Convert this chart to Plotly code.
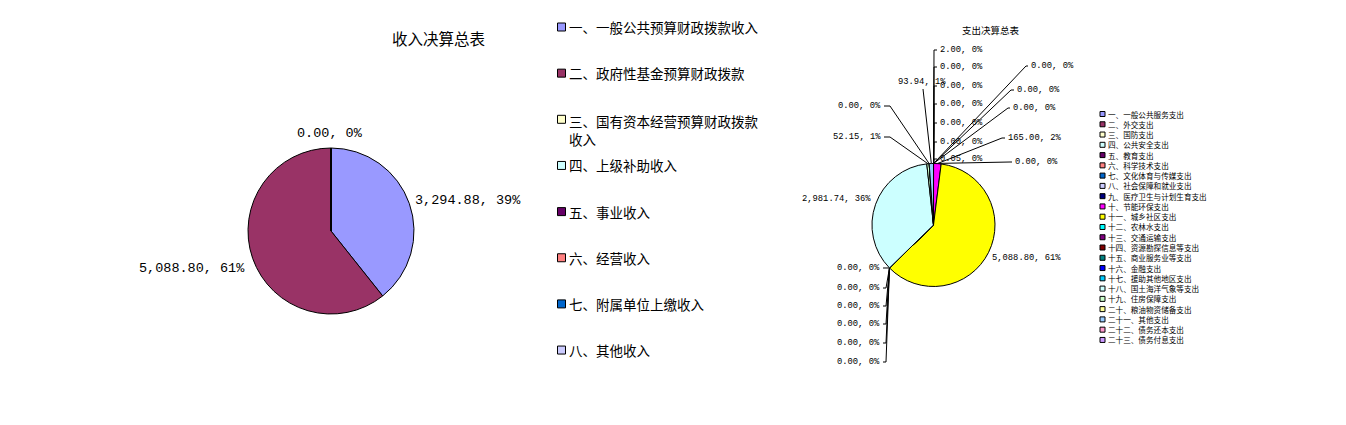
import math
import plotly.graph_objects as go

W, H = 1346, 425

# ---------------- data ----------------
income_title = "收入决算总表"
income_categories = [
    "一、一般公共预算财政拨款收入",
    "二、政府性基金预算财政拨款",
    "三、国有资本经营预算财政拨款<br>收入",
    "四、上级补助收入",
    "五、事业收入",
    "六、经营收入",
    "七、附属单位上缴收入",
    "八、其他收入",
]
income_values = [3294.88, 5088.80, 0.00, None, None, None, None, None]

expense_title = "支出决算总表"
expense_categories = [
    "一、一般公共服务支出", "二、外交支出", "三、国防支出", "四、公共安全支出",
    "五、教育支出", "六、科学技术支出", "七、文化体育与传媒支出", "八、社会保障和就业支出",
    "九、医疗卫生与计划生育支出", "十、节能环保支出", "十一、城乡社区支出", "十二、农林水支出",
    "十三、交通运输支出", "十四、资源勘探信息等支出", "十五、商业服务业等支出", "十六、金融支出",
    "十七、援助其他地区支出", "十八、国土海洋气象等支出", "十九、住房保障支出", "二十、粮油物资储备支出",
    "二十一、其他支出", "二十二、债务还本支出", "二十三、债务付息支出",
]
expense_values = [2.00, 0.00, 0.00, 0.00, 0.00, 0.00, 0.05, 0.00, 0.00, 165.00,
                  5088.80, 0.00, 0.00, 0.00, 0.00, 0.00, 0.00, 2981.74, 52.15, 0.00,
                  93.94, 0.00, 0.00]

palette = ["#9999FF", "#993366", "#FFFFCC", "#CCFFFF", "#660066", "#FF8080", "#0066CC",
           "#CCCCFF", "#000080", "#FF00FF", "#FFFF00", "#00FFFF", "#800080", "#800000",
           "#008080", "#0000FF", "#00CCFF", "#CCFFFF", "#CCFFCC", "#FFFF99", "#99CCFF",
           "#FF99CC", "#CC99FF"]

# ---------------- layout (pixel positions) ----------------
L_CX, L_CY, L_R = 331, 231, 83
R_CX, R_CY, R_R = 933.5, 225, 61.5

income_label_pos = [(413, 200, "left"), (247, 268, "right"), (330, 133, "center")]

# expense label: (x, y, xanchor, leader points before the slice edge)
def stack_top(y):
    return (938, y, "left", [(937, y), (934, y)])

def stack_bottom(y):
    return (882, y, "right", [(883, y), (886, y)])

expense_label_pos = [
    stack_top(50), stack_top(67), stack_top(86), stack_top(104), stack_top(123),
    stack_top(142), stack_top(159),
    (1029, 66, "left", [(1028, 66), (1026, 66)]),
    (1015, 90, "left", [(1014, 90), (1011, 90)]),
    (1006, 138, "left", [(1005, 138), (1002, 138)]),
    (990, 258, "left", None),
    stack_bottom(268), stack_bottom(288), stack_bottom(306), stack_bottom(324),
    stack_bottom(343), stack_bottom(362),
    (873, 199, "right", None),
    (883, 137, "right", [(884, 137), (890, 137)]),
    (883, 106, "right", [(884, 106), (890, 106)]),
    (922, 82, "center", [(923, 89)]),
    (1011, 108, "left", [(1010, 108), (1008, 108)]),
    (1013, 162, "left", [(1012, 162), (1010, 162)]),
]

NUM_FONT = "Liberation Mono, Noto Sans CJK SC, monospace"
CJK_FONT = "Noto Sans CJK SC, sans-serif"


def domain(cx, cy, r):
    return dict(x=[(cx - r) / W, (cx + r) / W], y=[(H - (cy + r)) / H, (H - (cy - r)) / H])


def fmt(v, total):
    return f"{v:,.2f}, {round(100 * v / total):.0f}%"


def edge_point(cx, cy, r, values, i):
    total = sum(values)
    cum = sum(values[:i]) + values[i] / 2
    th = 2 * math.pi * cum / total
    return cx + r * math.sin(th), cy - r * math.cos(th)


fig = go.Figure()

inc_plot = [v if v is not None else 0 for v in income_values]
fig.add_trace(go.Pie(
    values=inc_plot, labels=income_categories, sort=False, direction="clockwise", rotation=0,
    marker=dict(colors=palette[:len(income_categories)], line=dict(color="black", width=1)),
    textinfo="none", showlegend=False, domain=domain(L_CX, L_CY, L_R),
))
fig.add_trace(go.Pie(
    values=expense_values, labels=expense_categories, sort=False, direction="clockwise", rotation=0,
    marker=dict(colors=palette[:len(expense_categories)], line=dict(color="black", width=1)),
    textinfo="none", showlegend=False, domain=domain(R_CX, R_CY, R_R),
))

annotations = []
# titles
annotations.append(dict(x=438, y=38, text=income_title, font=dict(family=CJK_FONT, size=15.5, color="black")))
annotations.append(dict(x=991, y=30, text=expense_title, font=dict(family=CJK_FONT, size=9.5, color="black")))

# income labels
inc_total = sum(v for v in income_values if v is not None)
for v, (x, y, xa) in zip(income_values, income_label_pos):
    annotations.append(dict(x=x, y=y, xanchor=xa, text=fmt(v, inc_total),
                            font=dict(family=NUM_FONT, size=13.5, color="black")))

# expense labels + leader lines
exp_total = sum(expense_values)
lx, ly = [], []
for i, (v, (x, y, xa, pts)) in enumerate(zip(expense_values, expense_label_pos)):
    annotations.append(dict(x=x, y=y, xanchor=xa, text=fmt(v, exp_total),
                            font=dict(family=NUM_FONT, size=8.8, color="black")))
    if pts:
        ex, ey = edge_point(R_CX, R_CY, R_R, expense_values, i)
        for px, py in pts:
            lx.append(px); ly.append(py)
        lx += [ex, None]; ly += [ey, None]

fig.add_trace(go.Scatter(x=lx, y=ly, mode="lines", line=dict(color="black", width=1),
                         hoverinfo="skip", showlegend=False))

# legends (built from the category lists)
inc_rows = [27 + 46.15 * i for i in range(len(income_categories))]
fig.add_trace(go.Scatter(
    x=[561.5] * len(income_categories), y=inc_rows, mode="markers",
    marker=dict(symbol="square", size=8, color=palette[:len(income_categories)],
                line=dict(color="black", width=1)),
    hoverinfo="skip", showlegend=False))
for cat, y in zip(income_categories, inc_rows):
    multi = "<br>" in cat
    annotations.append(dict(x=567, y=y, xanchor="left", yanchor="top" if multi else "middle",
                            yshift=10 if multi else 0, align="left", text=cat,
                            font=dict(family=CJK_FONT, size=13.5, color="black")))

exp_rows = [114 + 10.27 * i for i in range(len(expense_categories))]
fig.add_trace(go.Scatter(
    x=[1102.5] * len(expense_categories), y=exp_rows, mode="markers",
    marker=dict(symbol="square", size=5, color=palette[:len(expense_categories)],
                line=dict(color="black", width=1)),
    hoverinfo="skip", showlegend=False))
for cat, y in zip(expense_categories, exp_rows):
    annotations.append(dict(x=1106, y=y, xanchor="left", yanchor="middle", text=cat,
                            font=dict(family=CJK_FONT, size=7.6, color="black")))

for a in annotations:
    a.setdefault("xref", "x")
    a.setdefault("yref", "y")
    a.setdefault("showarrow", False)
    a.setdefault("xanchor", "center")
    a.setdefault("yanchor", "middle")

fig.update_layout(
    width=W, height=H, margin=dict(l=0, r=0, t=0, b=0),
    paper_bgcolor="white", plot_bgcolor="rgba(0,0,0,0)",
    xaxis=dict(range=[0, W], visible=False, fixedrange=True, domain=[0, 1]),
    yaxis=dict(range=[H, 0], visible=False, fixedrange=True, domain=[0, 1]),
    annotations=annotations, showlegend=False,
)

fig.write_html("out.html", config={"displayModeBar": False},
               post_script="document.body.style.margin='0';")
